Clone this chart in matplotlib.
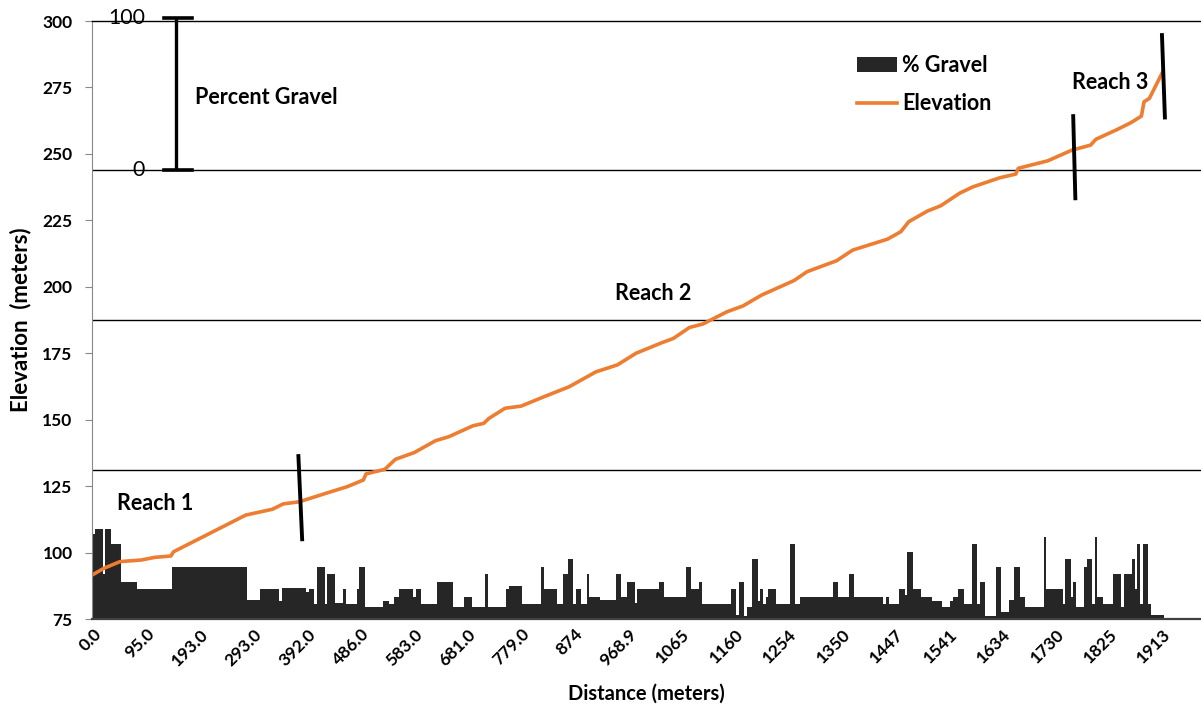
import numpy as np
import matplotlib
matplotlib.use("Agg")
import matplotlib.pyplot as plt

plt.rcParams['font.family'] = ['Lato', 'DejaVu Sans']

# distance labels, one every 20 samples along the channel
dist_labels = ["0.0", "95.0", "193.0", "293.0", "392.0", "486.0", "583.0",
               "681.0", "779.0", "874", "968.9", "1065", "1160", "1254",
               "1350", "1447", "1541", "1634", "1730", "1825", "1913"]
label_step = 20

# percent gravel as runs: sample index where each run starts, and its value
gravel_start = [0, 1, 4, 5, 7, 11, 17, 30, 58, 63, 70, 71, 80, 81, 83, 84, 87,
                88, 91, 94, 95, 99, 100, 102, 109, 111, 113, 115, 120, 121, 123,
                129, 135, 139, 142, 147, 148, 155, 156, 161, 168, 169, 174, 176,
                178, 180, 181, 183, 185, 186, 190, 196, 198, 200, 203, 204, 212,
                214, 222, 224, 227, 228, 239, 241, 242, 244, 245, 247, 249, 250,
                251, 252, 253, 256, 261, 263, 265, 277, 279, 283, 285, 296, 297,
                298, 302, 304, 305, 307, 310, 314, 318, 321, 322, 324, 326, 329,
                331, 332, 334, 338, 340, 343, 345, 347, 349, 356, 357, 363, 364,
                366, 367, 368, 371, 372, 374, 375, 376, 378, 382, 385, 386, 389,
                390, 391, 392, 393, 395, 396]
gravel_pct = [57, 60, 30, 60, 50, 25, 20, 35, 13, 20, 12, 21, 18, 20, 10, 35, 10,
              30, 11, 20, 10, 20, 35, 8, 12, 10, 15, 20, 15, 20, 10,
              25, 8, 15, 8, 30, 8, 20, 22, 10, 35, 20, 10, 30,
              40, 10, 20, 10, 30, 15, 13, 30, 15, 25, 11, 20, 25,
              15, 35, 20, 25, 10, 20, 3, 25, 2, 8, 40, 12, 20,
              10, 15, 20, 10, 50, 10, 15, 25, 15, 30, 15, 10, 15,
              10, 20, 16, 45, 20, 15, 12, 8, 12, 15, 20, 10, 50,
              10, 25, 2, 35, 5, 13, 35, 15, 8, 55, 20, 10, 40,
              15, 25, 8, 35, 40, 10, 55, 15, 10, 30, 8, 30, 40,
              20, 50, 10, 50, 10, 3]
gravel_end = 401

# elevation profile (m) at sample indices
elev_idx = [0, 4, 10, 18, 23, 29, 30, 57, 67, 71, 77, 87, 95, 101, 102, 109,
            113, 120, 128, 133, 142, 146, 148, 154, 160, 168, 178, 188, 196,
            203, 212, 217, 223, 228, 237, 243, 250, 262, 267, 278, 284, 297,
            302, 305, 312, 317, 324, 329, 339, 345, 346, 357, 366, 373, 375,
            383, 388, 392, 393, 395, 400]
elev_m = [91.8, 94.1, 96.6, 97.2, 98.2, 98.7, 100.3, 114.1, 116.3, 118.3, 119.1,
          122.3, 124.8, 127.3, 129.6, 131.3, 135.1, 137.6, 142.1, 143.6, 147.7,
          148.6, 150.5, 154.3, 155.1, 158.4, 162.4, 168.0, 170.6, 175.0, 178.7,
          180.6, 184.7, 186.0, 190.6, 192.8, 196.9, 202.3, 205.7, 209.8, 213.8,
          217.9, 220.7, 224.5, 228.5, 230.5, 235.2, 237.6, 241.0, 242.4, 244.6,
          247.4, 251.4, 253.3, 255.5, 259.2, 261.7, 264.2, 269.6, 270.9, 280.9]

fig = plt.figure(figsize=(12.01, 7.08), dpi=100)
ax = fig.add_axes([92 / 1201, 89 / 708, 1 - 92 / 1201, 598 / 708])
ax2 = ax.twinx()

# gravel bars on the hidden 0-400 % axis
widths = np.diff(gravel_start + [gravel_end])
bars = ax2.bar(np.array(gravel_start) - 0.5, gravel_pct, width=widths,
               align='edge', color='#262626', linewidth=0, label='% Gravel')
ax2.set_ylim(0, 400)
ax2.set_yticks([100, 200, 300])
ax2.yaxis.grid(True, color='black', linewidth=1)
ax2.tick_params(right=False, labelright=False)
for s in ax2.spines.values():
    s.set_visible(False)

# percent gravel scale bar
ax2.plot([31, 31], [300, 402], color='black', lw=2.4, clip_on=False,
         solid_capstyle='butt')
ax2.plot([26.3, 36.9], [300, 300], color='black', lw=2.6, clip_on=False)
ax2.plot([26.3, 36.9], [402, 402], color='black', lw=2.6, clip_on=False)
ax2.text(19.3, 402, "100", ha='right', va='center', fontsize=15.3)
ax2.text(19.3, 300, "0", ha='right', va='center', fontsize=15.3)
ax2.text(38.2, 349, "Percent Gravel", ha='left', va='center', fontsize=15.5,
         fontweight='bold')

# elevation line on the main axis, above the bars
line, = ax.plot(elev_idx, elev_m, color='#ED7D31', lw=2.6, label='Elevation')
ax.set_zorder(ax2.get_zorder() + 1)
ax.patch.set_visible(False)

ax.set_ylim(75, 300)
ax.set_yticks(np.arange(75, 301, 25))
ax.set_xlim(-0.5, 414.3)
ax.set_xticks(np.arange(len(dist_labels)) * label_step)
ax.set_xticklabels(dist_labels, rotation=45, ha='right', va='top',
                   rotation_mode='anchor', fontweight='bold', fontsize=12.5)
ax.tick_params(axis='x', length=0, pad=5)
ax.tick_params(axis='y', length=5, color='#888888', labelsize=12.5, pad=9)
for lbl in ax.get_yticklabels():
    lbl.set_fontweight('bold')

ax.spines['right'].set_visible(False)
ax.spines['top'].set_color('black')
ax.spines['top'].set_linewidth(1)
ax.spines['left'].set_color('#888888')
ax.spines['bottom'].set_color('#404040')
ax.spines['bottom'].set_linewidth(1.6)

ax.set_xlabel("Distance (meters)", fontsize=14.5, fontweight='bold', labelpad=11)
ax.set_ylabel("Elevation  (meters)", fontsize=16, fontweight='bold', labelpad=8)

# reach boundaries
ax.plot([76.7, 78.1], [136.3, 105.0], color='black', lw=2.8)
ax.plot([366.5, 367.3], [264.2, 233.3], color='black', lw=2.8)
ax.plot([399.7, 400.8], [294.7, 263.7], color='black', lw=2.8, clip_on=False)
ax.text(8.7, 118.6, "Reach 1", ha='left', va='center', fontsize=15.5, fontweight='bold')
ax.text(195.2, 197.6, "Reach 2", ha='left', va='center', fontsize=15.5, fontweight='bold')
ax.text(366.2, 276.7, "Reach 3", ha='left', va='center', fontsize=15.5, fontweight='bold')

ax.legend([bars, line], ['% Gravel', 'Elevation'], loc='upper left',
          bbox_to_anchor=(857 / 1201, 1 - 55 / 708), bbox_transform=fig.transFigure,
          frameon=False, prop={'weight': 'bold', 'size': 15.5},
          handlelength=1.86, handletextpad=0.23, borderpad=0, borderaxespad=0,
          labelspacing=0.8)

fig.savefig("out.png", dpi=100)
